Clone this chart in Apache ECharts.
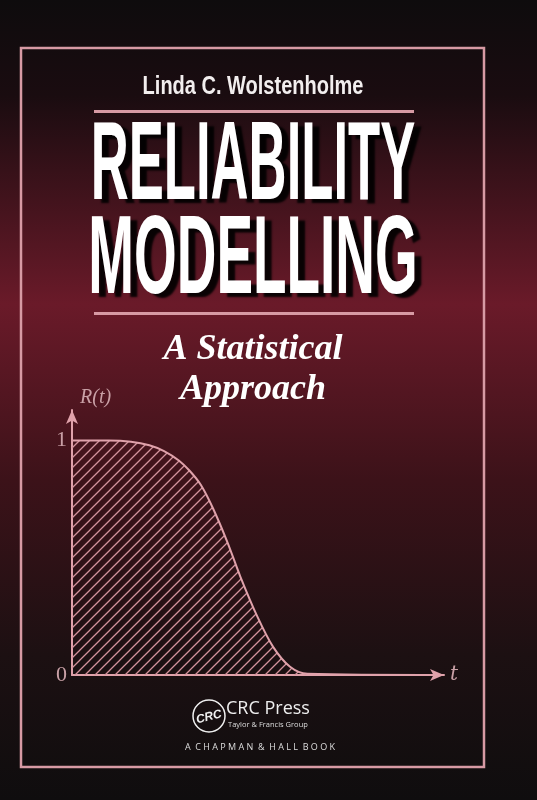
<!DOCTYPE html>
<html>
<head>
<meta charset="utf-8">
<script src="https://cdn.jsdelivr.net/npm/echarts@6/dist/echarts.min.js"></script>
<style>html,body{margin:0;padding:0;background:#0e0c0d}#main{width:537px;height:800px}</style>
</head>
<body>
<div id="main"></div>
<script>
// R(t) curve
var tValues = [0, 1.0, 1.6, 2.1, 2.5, 2.9, 3.2, 3.5, 3.83, 4.21, 4.57, 5.03, 5.46, 5.92, 6.39, 10.1];
var rValues = [1, 1, 0.995, 0.98, 0.955, 0.915, 0.87, 0.81, 0.71, 0.57, 0.42, 0.25, 0.12, 0.035, 0.005, 0];
var yTicks = ['0', '1'];

var pink = '#e0a2ab';

var hatch = document.createElement('canvas');
hatch.width = 10; hatch.height = 10;
var hc = hatch.getContext('2d');
hc.strokeStyle = '#d3929c';
hc.lineWidth = 1.3;
hc.beginPath();
hc.moveTo(-1, 11); hc.lineTo(11, -1);
hc.moveTo(-6, 6); hc.lineTo(6, -6);
hc.moveTo(4, 16); hc.lineTo(16, 4);
hc.stroke();

var points = tValues.map(function (t, i) { return [t, rValues[i]]; });

var titleStyle = function (txt) {
	return {
		text: txt, align: 'center', verticalAlign: 'middle', fill: '#ffffff',
		font: 'bold 112px "Liberation Sans"',
		textShadowColor: 'rgba(0,0,0,0.9)', textShadowOffsetX: 7, textShadowOffsetY: 4, textShadowBlur: 2
	};
};

var chart = echarts.init(document.getElementById('main'));
chart.setOption({
	backgroundColor: {
		type: 'linear', x: 0, y: 0, x2: 0, y2: 1,
		colorStops: [
			{ offset: 0, color: '#0e0c0d' },
			{ offset: 0.12, color: '#1a0c10' },
			{ offset: 0.38, color: '#6a1a29' },
			{ offset: 0.6, color: '#3c1219' },
			{ offset: 0.82, color: '#1c1012' },
			{ offset: 1, color: '#0f0d0e' }
		]
	},
	animation: false,
	grid: { left: 72, right: 93, top: 410, bottom: 125 },
	xAxis: {
		type: 'value', min: 0, max: 10.1,
		name: 't', nameGap: 6,
		nameTextStyle: { color: '#c9a0a6', fontFamily: 'DejaVu Serif', fontStyle: 'italic', fontSize: 20 },
		axisLine: { lineStyle: { color: pink, width: 2 }, symbol: ['none', 'arrow'], symbolSize: [9, 14] },
		axisTick: { show: false }, axisLabel: { show: false }, splitLine: { show: false }
	},
	yAxis: {
		type: 'value', min: 0, max: 1.13, interval: 1,
		name: 'R(t)', nameGap: 2,
		nameTextStyle: { color: '#c9a0a6', fontFamily: 'Liberation Serif', fontStyle: 'italic', fontSize: 20, align: 'left', padding: [0, 0, 0, 8] },
		axisLine: { show: true, lineStyle: { color: pink, width: 2 }, symbol: ['none', 'arrow'], symbolSize: [9, 14] },
		axisTick: { show: false }, splitLine: { show: false },
		axisLabel: {
			color: '#c9a0a6', fontFamily: 'Liberation Serif', fontSize: 22, margin: 5, showMaxLabel: false,
			formatter: function (v) { return yTicks[Math.round(v)] || ''; }
		}
	},
	series: [{
		type: 'line', data: points, smooth: 0.3, symbol: 'none',
		lineStyle: { color: pink, width: 2 },
		areaStyle: { color: { image: hatch, repeat: 'repeat' }, opacity: 1 }
	}],
	graphic: [
		{ type: 'rect', shape: { x: 21, y: 48, width: 463, height: 719 }, style: { fill: 'none', stroke: '#d79aa4', lineWidth: 2.5 } },
		{ type: 'text', x: 253, y: 87, scaleX: 0.8, style: { text: 'Linda C. Wolstenholme', align: 'center', verticalAlign: 'middle', fill: '#f2eeee', font: 'bold 25px "Liberation Sans"' } },
		{ type: 'rect', shape: { x: 94, y: 110, width: 320, height: 3 }, style: { fill: '#d79aa4' } },
		{ type: 'text', x: 253, y: 168, scaleX: 0.47, style: titleStyle('RELIABILITY') },
		{ type: 'text', x: 253, y: 262, scaleX: 0.49, style: titleStyle('MODELLING') },
		{ type: 'rect', shape: { x: 94, y: 312, width: 320, height: 3 }, style: { fill: '#d79aa4' } },
		{ type: 'text', x: 253, y: 350, style: { text: 'A Statistical', align: 'center', verticalAlign: 'middle', fill: '#ffffff', font: 'italic bold 36px "Liberation Serif"', textShadowColor: 'rgba(0,0,0,0.9)', textShadowOffsetX: 3, textShadowOffsetY: 3 } },
		{ type: 'text', x: 253, y: 390, style: { text: 'Approach', align: 'center', verticalAlign: 'middle', fill: '#ffffff', font: 'italic bold 36px "Liberation Serif"', textShadowColor: 'rgba(0,0,0,0.9)', textShadowOffsetX: 3, textShadowOffsetY: 3 } },
		{ type: 'circle', shape: { cx: 209, cy: 716, r: 16 }, style: { fill: 'none', stroke: '#f0f0f0', lineWidth: 1.5 } },
		{ type: 'text', x: 209, y: 717, rotation: 0.25, style: { text: 'CRC', align: 'center', verticalAlign: 'middle', fill: '#f0f0f0', font: 'italic bold 12px "Liberation Sans"' } },
		{ type: 'text', x: 226, y: 709, style: { text: 'CRC Press', verticalAlign: 'middle', fill: '#eeeeee', font: '18px "Open Sans"' } },
		{ type: 'text', x: 228, y: 725, style: { text: 'Taylor & Francis Group', verticalAlign: 'middle', fill: '#dddddd', font: '7.5px "Open Sans"' } },
		{ type: 'text', x: 260, y: 747, style: { text: 'A  C H A P M A N  &  H A L L  B O O K', align: 'center', verticalAlign: 'middle', fill: '#dddddd', font: '9px "Open Sans"' } }
	]
});
</script>
</body>
</html>
